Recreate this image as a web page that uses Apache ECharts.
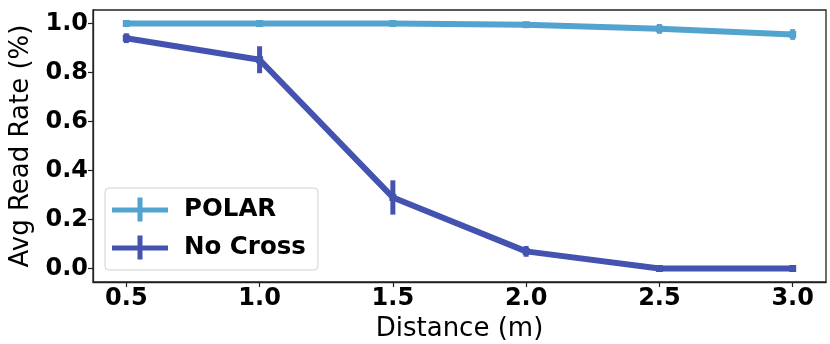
<!DOCTYPE html>
<html>
<head>
<meta charset="utf-8">
<script src="https://cdn.jsdelivr.net/npm/echarts@6/dist/echarts.min.js"></script>
<style>
  html, body { margin: 0; padding: 0; background: #fff; }
  #chart { width: 830px; height: 344px; }
</style>
</head>
<body>
<div id="chart"></div>
<script>
// distances (m)
var distances = [0.5, 1.0, 1.5, 2.0, 2.5, 3.0];
var xTicks = [0.5, 1.0, 1.5, 2.0, 2.5, 3.0];
var yTicks = [0.0, 0.2, 0.4, 0.6, 0.8, 1.0];

// avg read rate + error (std)
var polarRate = [1.0, 1.0, 1.0, 0.995, 0.978, 0.955];
var polarErr = [0.004, 0.004, 0.004, 0.006, 0.02, 0.022];
var noCrossRate = [0.94, 0.852, 0.29, 0.07, 0.0, 0.0];
var noCrossErr = [0.02, 0.055, 0.07, 0.022, 0.003, 0.003];

var polarColor = '#53a3cf';
var noCrossColor = '#4553b0';

var chartDom = document.getElementById('chart');
var myChart = echarts.init(chartDom);
var option;

function lineData(rates) {
  return distances.map(function (d, i) { return [d, rates[i]]; });
}
function errData(rates, errs) {
  return distances.map(function (d, i) { return [d, rates[i] - errs[i], rates[i] + errs[i]]; });
}
function errRender(color) {
  return function (params, api) {
    var lo = api.coord([api.value(0), api.value(1)]);
    var hi = api.coord([api.value(0), api.value(2)]);
    return {
      type: 'line',
      shape: { x1: lo[0], y1: lo[1], x2: hi[0], y2: hi[1] },
      style: { stroke: color, lineWidth: 5 }
    };
  };
}

var crossIcon = 'path://M0,10 L56,10 L56,15 L0,15 Z M25.5,0 L30.5,0 L30.5,24 L25.5,24 Z';
var fontFam = '"DejaVu Sans", sans-serif';

option = {
  animation: false,
  grid: {
    left: 93, right: 4, top: 10, bottom: 62,
    outerBoundsMode: 'none',
    show: true, borderColor: '#222', borderWidth: 1.3
  },
  legend: {
    orient: 'vertical',
    left: 105, top: 188,
    padding: [9, 12, 10, 7],
    itemWidth: 56, itemHeight: 24, itemGap: 13,
    backgroundColor: 'rgba(255,255,255,0.85)',
    borderColor: '#d0d0d0', borderWidth: 1, borderRadius: 4,
    textStyle: { fontFamily: fontFam, fontWeight: 'bold', fontSize: 24.5, color: '#000', padding: [0, 0, 0, 11] },
    data: [
      { name: 'POLAR', icon: crossIcon, itemStyle: { color: polarColor } },
      { name: 'No Cross', icon: crossIcon, itemStyle: { color: noCrossColor } }
    ]
  },
  xAxis: {
    type: 'value', min: 0.375, max: 3.125,
    name: 'Distance (m)', nameLocation: 'middle', nameGap: 34,
    nameTextStyle: { fontFamily: fontFam, fontSize: 26, color: '#000' },
    splitLine: { show: false },
    axisLine: { onZero: false, lineStyle: { color: '#222', width: 1.3 } },
    axisTick: { show: true, length: 5, customValues: xTicks, lineStyle: { color: '#222', width: 1.2 } },
    axisLabel: {
      customValues: xTicks, margin: 5,
      fontFamily: fontFam, fontWeight: 'bold', fontSize: 24, color: '#000',
      formatter: function (v) { return v.toFixed(1); }
    }
  },
  yAxis: {
    type: 'value', min: -0.055, max: 1.055,
    name: 'Avg Read Rate (%)', nameLocation: 'middle', nameGap: 57,
    nameTextStyle: { fontFamily: fontFam, fontSize: 26, color: '#000' },
    splitLine: { show: false },
    axisLine: { show: true, onZero: false, lineStyle: { color: '#222', width: 1.3 } },
    axisTick: { show: true, length: 5, customValues: yTicks, lineStyle: { color: '#222', width: 1.2 } },
    axisLabel: {
      customValues: yTicks, margin: 5,
      fontFamily: fontFam, fontWeight: 'bold', fontSize: 24, color: '#000',
      formatter: function (v) { return v.toFixed(1); }
    }
  },
  series: [
    {
      name: 'POLAR', type: 'line', data: lineData(polarRate),
      symbol: 'rect', symbolSize: 7,
      itemStyle: { color: polarColor },
      lineStyle: { color: polarColor, width: 6 },
      z: 3
    },
    {
      name: 'POLAR-err', type: 'custom', data: errData(polarRate, polarErr),
      renderItem: errRender(polarColor), z: 3, silent: true
    },
    {
      name: 'No Cross', type: 'line', data: lineData(noCrossRate),
      symbol: 'rect', symbolSize: 7,
      itemStyle: { color: noCrossColor },
      lineStyle: { color: noCrossColor, width: 6 },
      z: 4
    },
    {
      name: 'No Cross-err', type: 'custom', data: errData(noCrossRate, noCrossErr),
      renderItem: errRender(noCrossColor), z: 4, silent: true
    }
  ]
};

option && myChart.setOption(option);
</script>
</body>
</html>
